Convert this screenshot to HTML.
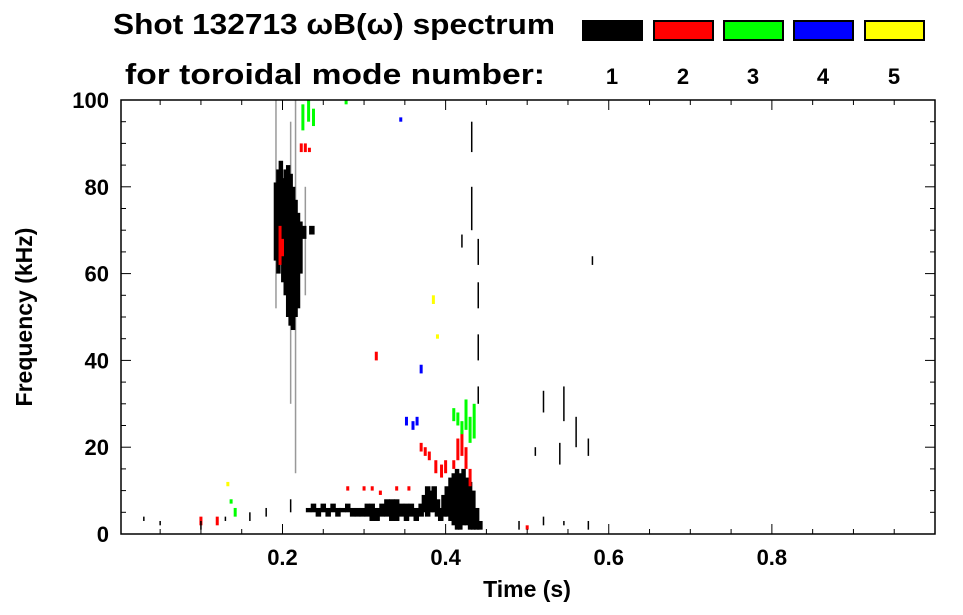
<!DOCTYPE html>
<html><head><meta charset="utf-8"><style>
body{margin:0;background:#fff;}
svg{display:block;font-family:"Liberation Sans",sans-serif;font-weight:bold;}
</style></head><body>
<svg id="chart" width="963" height="615" viewBox="0 0 963 615">
<text x="113" y="34" font-size="29" textLength="442" lengthAdjust="spacingAndGlyphs">Shot 132713 ωB(ω) spectrum</text>
<text x="125" y="84" font-size="29" textLength="420" lengthAdjust="spacingAndGlyphs">for toroidal mode number:</text>
<g id="legend"></g>
<g id="marks"></g>
<g id="axes"></g>
<text x="527" y="597" font-size="23" text-anchor="middle">Time (s)</text>
<text transform="translate(32,317) rotate(-90)" font-size="23" text-anchor="middle">Frequency (kHz)</text>
</svg>
<script>
const modeLabels=["1","2","3","4","5"];
const modeColors=["#000000","#ff0000","#00ff00","#0000ff","#ffff00"];
const xTicks=[0.2,0.4,0.6,0.8];
const yTicks=[0,20,40,60,80,100];
// dense segments: time (s), low freq (kHz), high freq (kHz), mode (0 = gray/incoherent)
const segT=[0.192,0.210,0.216,0.228,
0.192,0.195,0.198,0.201,0.204,0.207,0.210,0.213,0.216,0.219,0.222,0.226,0.236,
0.232,0.238,0.244,0.250,0.256,0.262,0.268,0.274,0.280,0.286,0.292,0.298,0.304,0.310,0.316,0.322,0.328,0.334,0.340,0.346,0.352,0.358,0.364,0.370,0.374,0.378,0.382,0.386,0.390,0.394,0.398,0.402,0.406,0.410,0.414,0.418,0.422,0.426,0.430,0.434,0.438,0.442,
0.197,0.200,0.223,0.228,0.233,0.315,0.280,0.300,0.310,0.320,0.340,0.355,0.370,0.375,0.380,0.388,0.395,0.400,0.410,0.415,0.420,0.425,0.430,0.100,0.120,0.500,
0.225,0.232,0.238,0.278,0.410,0.415,0.420,0.425,0.430,0.435,0.137,0.142,
0.345,0.352,0.360,0.365,0.370,
0.385,0.390,0.133];
const segLo=[52,30,14,55,
63,60,64,58,55,50,48,47,50,52,60,68,69,
5,5,4,5,4,5,4,5,5,4,4,4,4,3,3,4,4,3,3,4,3,4,3,4,5,4,5,5,4,3,4,4,3,2,1,1,2,2,1,1,1,1,
62,64,88,88,88,40,10,10,10,9,10,10,19,18,17,14,13,14,15,17,18,15,11,2,2,1,
93,95,94,99,26,25,23,24,21,22,7,4,
95,25,24,25,37,
53,45,11];
const segHi=[100,95,100,80,
81,84,86,82,84,85,83,80,77,74,72,71,71,
6,7,6,7,6,7,6,6,7,6,6,6,7,7,6,7,8,8,8,7,7,7,6,7,9,11,10,11,8,6,9,11,13,14,15,14,15,13,12,10,6,3,
71,68,90,90,89,42,11,11,11,10,11,11,21,20,19,17,16,17,17,22,24,20,15,4,4,2,
99,100,98,100,29,28,26,31,27,30,8,6,
96,27,26,27,39,
55,46,12];
const segMode=[0,0,0,0,
1,1,1,1,1,1,1,1,1,1,1,1,1,
1,1,1,1,1,1,1,1,1,1,1,1,1,1,1,1,1,1,1,1,1,1,1,1,1,1,1,1,1,1,1,1,1,1,1,1,1,1,1,1,1,1,
2,2,2,2,2,2,2,2,2,2,2,2,2,2,2,2,2,2,2,2,2,2,2,2,2,2,
3,3,3,3,3,3,3,3,3,3,3,3,
4,4,4,4,4,
5,5,5];
// sparse thin black marks
const thinT=[0.030,0.050,0.100,0.130,0.160,0.180,0.210,0.270,0.420,0.432,0.432,0.440,0.440,0.440,0.440,0.520,0.540,0.545,0.560,0.575,0.580,0.510,0.490,0.520,0.545,0.575];
const thinLo=[3,2,1,3,3,4,5,5,66,88,70,62,52,40,30,28,16,26,20,18,62,18,1,2,2,1];
const thinHi=[4,3,3,4,5,6,8,6,69,95,80,68,58,46,34,33,21,34,27,22,64,20,3,4,3,3];

const X0=121,X1=935,Y0=534,Y1=100,TMIN=0.002,TMAX=1.0,FMIN=0,FMAX=100;
function xs(t){return X0+(t-TMIN)/(TMAX-TMIN)*(X1-X0);}
function ys(f){return Y0-(f-FMIN)/(FMAX-FMIN)*(Y0-Y1);}
const NS="http://www.w3.org/2000/svg";
function mk(tag,attrs,parent){const e=document.createElementNS(NS,tag);for(const k in attrs)e.setAttribute(k,attrs[k]);parent.appendChild(e);return e;}
const marks=document.getElementById('marks');
for(let i=0;i<segT.length;i++){
  const m=segMode[i];
  const col=m===0?"#999999":modeColors[m-1];
  let w=m===0?1.5:3;
  if(m===1) w=segHi[i]-segLo[i]>8?4.5:5.5;
  const r=mk('rect',{x:xs(segT[i])-w/2,y:ys(segHi[i]),width:w,height:Math.max(1.5,ys(segLo[i])-ys(segHi[i])),fill:col},marks);
  
  
}
for(let i=0;i<thinT.length;i++){
  const r=mk('rect',{x:xs(thinT[i])-0.75,y:ys(thinHi[i]),width:1.5,height:Math.max(1.5,ys(thinLo[i])-ys(thinHi[i])),fill:"#000"},marks);
  
  
}
const axes=document.getElementById('axes');
const frame=mk('rect',{x:X0,y:Y1,width:X1-X0,height:Y0-Y1,fill:"none",stroke:"#000","stroke-width":1.5},axes);


for(let t=0.05;t<TMAX;t+=0.05){
  const x=xs(t),major=Math.abs(t/0.2-Math.round(t/0.2))<1e-6,len=major?10:5;
  mk('line',{x1:x,x2:x,y1:Y0,y2:Y0-len,stroke:"#000","stroke-width":1},axes);
  mk('line',{x1:x,x2:x,y1:Y1,y2:Y1+len,stroke:"#000","stroke-width":1},axes);
}
for(let f=5;f<FMAX;f+=5){
  const y=ys(f),major=f%20===0,len=major?10:5;
  mk('line',{x1:X0,x2:X0+len,y1:y,y2:y,stroke:"#000","stroke-width":1},axes);
  mk('line',{x1:X1,x2:X1-len,y1:y,y2:y,stroke:"#000","stroke-width":1},axes);
}
xTicks.forEach(t=>{
  const tx=mk('text',{x:xs(t),y:Y0+31,"font-size":22,"text-anchor":"middle"},axes);
  tx.textContent=t.toFixed(1);
  
  
});
yTicks.forEach(f=>{
  const tx=mk('text',{x:X0-12,y:ys(f)+8,"font-size":22,"text-anchor":"end"},axes);
  tx.textContent=String(f);
  
  
});
const leg=document.getElementById('legend');
const legX=[582,653,723,793,864];
modeLabels.forEach((lab,i)=>{
  const r=mk('rect',{x:legX[i]+1,y:21,width:59,height:19,fill:modeColors[i],stroke:"#000","stroke-width":2},leg);
  
  
  const tx=mk('text',{x:legX[i]+30,y:84,"font-size":22,"text-anchor":"middle"},leg);
  tx.textContent=lab;
  
  
});
</script>
</body></html>
